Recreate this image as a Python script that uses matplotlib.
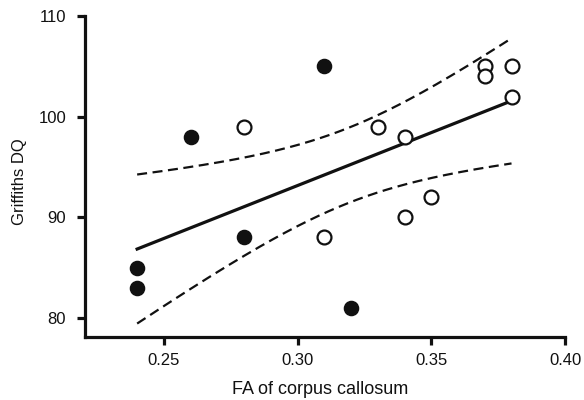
import numpy as np
import matplotlib
matplotlib.use("Agg")
import matplotlib.pyplot as plt

plt.rcParams['font.family'] = ['Liberation Sans', 'DejaVu Sans']

# Data (FA of corpus callosum vs Griffiths DQ)
filled_x = [0.24, 0.24, 0.26, 0.28, 0.31, 0.32]
filled_y = [85, 83, 98, 88, 105, 81]
open_x = [0.28, 0.31, 0.33, 0.34, 0.34, 0.35, 0.37, 0.37, 0.38, 0.38]
open_y = [99, 88, 99, 98, 90, 92, 105, 104, 105, 102]

x_ticks = [0.25, 0.30, 0.35, 0.40]
x_tick_labels = ["0.25", "0.30", "0.35", "0.40"]
y_ticks = [80, 90, 100, 110]

# Linear regression with 95% confidence band on all points
xa = np.array(filled_x + open_x)
ya = np.array(filled_y + open_y, dtype=float)
n = len(xa)
slope, intercept = np.polyfit(xa, ya, 1)
resid = ya - (slope * xa + intercept)
s = np.sqrt(np.sum(resid ** 2) / (n - 2))
t_crit = 2.145  # t(0.975, df=14)
xm = xa.mean()
sxx = np.sum((xa - xm) ** 2)
xf = np.linspace(xa.min(), xa.max(), 200)
yf = slope * xf + intercept
half = t_crit * s * np.sqrt(1.0 / n + (xf - xm) ** 2 / sxx)

fig = plt.figure(figsize=(5.84, 4.0), dpi=100)
ax = fig.add_axes([85 / 584, 1 - 337 / 400, (565 - 85) / 584, (337 - 16) / 400])

ax.plot(xf, yf, color='#111111', lw=2.3, zorder=3)
ax.plot(xf, yf + half, color='#111111', lw=1.6, ls=(0, (4.5, 2.5)), zorder=3)
ax.plot(xf, yf - half, color='#111111', lw=1.6, ls=(0, (4.5, 2.5)), zorder=3)

ax.plot(filled_x, filled_y, 'o', ms=10, mfc='#111111', mec='#111111', mew=1.2, zorder=4)
ax.plot(open_x, open_y, 'o', ms=10, mfc='white', mec='#111111', mew=1.6, zorder=4)

ax.set_xlim(0.2205, 0.40)
ax.set_ylim(78.1, 110)
ax.set_xticks(x_ticks)
ax.set_xticklabels(x_tick_labels)
ax.set_yticks(y_ticks)

for sp in ['top', 'right']:
    ax.spines[sp].set_visible(False)
for sp in ['left', 'bottom']:
    ax.spines[sp].set_linewidth(2.3)
    ax.spines[sp].set_color('#111111')
ax.tick_params(axis='both', direction='out', length=5.5, width=2.3, color='#111111',
               labelsize=12, labelcolor='#111111')
ax.tick_params(axis='x', pad=6)
ax.tick_params(axis='y', pad=8)

ax.set_xlabel('FA of corpus callosum', fontsize=13, color='#111111')
ax.set_ylabel('Griffiths DQ', fontsize=12, color='#111111', va='center', ha='center')
ax.xaxis.set_label_coords((320 - 85) / 480, (337 - 381) / 321)
ax.yaxis.set_label_coords((20 - 85) / 480, (337 - 182) / 321)

fig.savefig('out.png', dpi=100, facecolor='white')
